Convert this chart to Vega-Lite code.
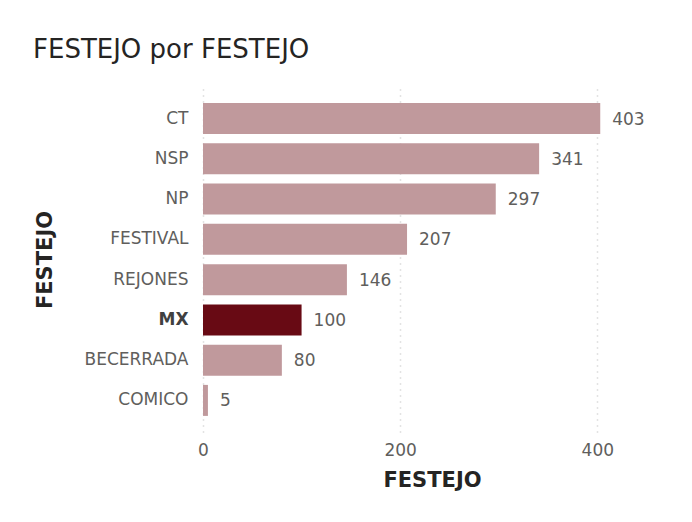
{
  "$schema": "https://vega.github.io/schema/vega-lite/v6.json",
  "autosize": {"type": "none"},
  "padding": {"left": 203, "top": 87, "right": 75, "bottom": 90},
  "width": 414,
  "height": 345,
  "background": "#ffffff",
  "title": {
    "text": "FESTEJO por FESTEJO",
    "anchor": "start",
    "frame": "group",
    "dx": -170,
    "offset": 3,
    "baseline": "alphabetic",
    "font": "DejaVu Sans",
    "fontSize": 26,
    "fontWeight": "normal",
    "color": "#252423"
  },
  "config": {
    "view": {"stroke": null},
    "font": "DejaVu Sans"
  },
  "data": {
    "values": [
      {"festejo": "CT", "valor": 403},
      {"festejo": "NSP", "valor": 341},
      {"festejo": "NP", "valor": 297},
      {"festejo": "FESTIVAL", "valor": 207},
      {"festejo": "REJONES", "valor": 146},
      {"festejo": "MX", "valor": 100},
      {"festejo": "BECERRADA", "valor": 80},
      {"festejo": "COMICO", "valor": 5}
    ]
  },
  "encoding": {
    "y": {
      "field": "festejo",
      "type": "nominal",
      "sort": null,
      "scale": {"paddingInner": 0.23, "paddingOuter": 0.4},
      "axis": {
        "title": "FESTEJO",
        "titleFont": "DejaVu Sans",
        "titleFontSize": 21,
        "titleFontWeight": "bold",
        "titleColor": "#252423",
        "titleX": -158,
        "titleBaseline": "middle",
        "titleAngle": -90,
        "labelFont": "DejaVu Sans",
        "labelFontSize": 17,
        "labelColor": {"condition": {"test": "datum.value == 'MX'", "value": "#404040"}, "value": "#605e5c"},
        "labelFontWeight": {"condition": {"test": "datum.value == 'MX'", "value": "bold"}, "value": "normal"},
        "labelPadding": 15,
        "ticks": false,
        "domain": false,
        "grid": false
      }
    },
    "x": {
      "field": "valor",
      "type": "quantitative",
      "scale": {"domain": [0, 420], "nice": false},
      "axis": {
        "title": "FESTEJO",
        "titleFont": "DejaVu Sans",
        "titleFontSize": 21,
        "titleFontWeight": "bold",
        "titleColor": "#252423",
        "titleX": 229,
        "titleY": 48,
        "titleBaseline": "middle",
        "values": [0, 200, 400],
        "labelFlush": false,
        "labelFont": "DejaVu Sans",
        "labelFontSize": 17,
        "labelColor": "#605e5c",
        "labelPadding": 10,
        "ticks": false,
        "domain": false,
        "grid": true,
        "gridColor": "#c8c8c8",
        "gridDash": [1, 5],
        "gridWidth": 1.5
      }
    }
  },
  "layer": [
    {
      "mark": {"type": "bar"},
      "encoding": {
        "color": {
          "condition": {"test": "datum.festejo == 'MX'", "value": "#680a14"},
          "value": "#c0999c"
        }
      }
    },
    {
      "mark": {"type": "text", "align": "left", "baseline": "middle", "dx": 12, "dy": 1, "font": "DejaVu Sans", "fontSize": 17, "color": "#605e5c"},
      "encoding": {
        "text": {"field": "valor", "type": "quantitative"}
      }
    }
  ]
}
